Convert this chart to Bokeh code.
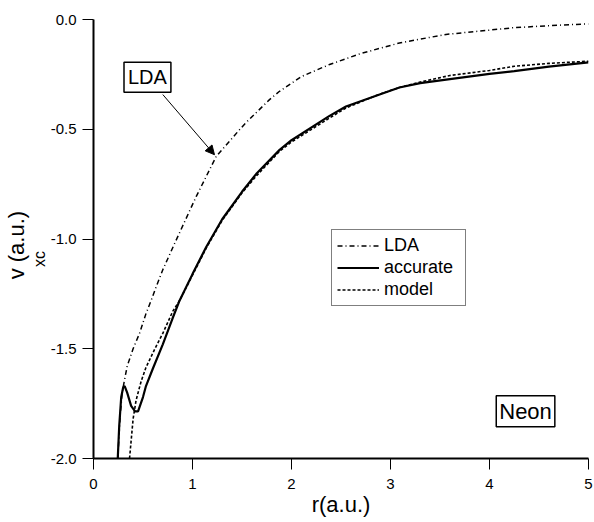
from bokeh.plotting import figure
from bokeh.models import (Range1d, FixedTicker, Label, Arrow, NormalHead, Legend,
                          LegendItem, PrintfTickFormatter, Title)
from bokeh.embed import file_html
from bokeh.resources import INLINE

FONT = "Liberation Sans"

r_accurate = [0.245, 0.26, 0.28, 0.30, 0.315, 0.34, 0.38, 0.42, 0.45, 0.50, 0.53, 0.60, 0.70,
              0.80, 0.87, 1.00, 1.14, 1.30, 1.50, 1.65, 1.88, 2.00, 2.38, 2.55, 2.89, 3.09,
              3.30, 3.60, 4.00, 4.25, 4.60, 5.00]
v_accurate = [-2.00, -1.85, -1.72, -1.675, -1.67, -1.70, -1.76, -1.785, -1.785, -1.72, -1.67,
              -1.59, -1.48, -1.36, -1.28, -1.16, -1.035, -0.91, -0.785, -0.70, -0.594, -0.55,
              -0.44, -0.396, -0.342, -0.31, -0.29, -0.272, -0.248, -0.235, -0.215, -0.195]

r_model = [0.364, 0.38, 0.40, 0.43, 0.48, 0.53, 0.62, 0.70, 0.80, 0.87, 1.00, 1.14, 1.30, 1.50,
           1.65, 1.88, 2.00, 2.38, 2.55, 2.89, 3.09, 3.30, 3.60, 4.00, 4.25, 4.60, 5.00]
v_model = [-2.00, -1.92, -1.82, -1.735, -1.65, -1.585, -1.50, -1.43, -1.33, -1.28, -1.165,
           -1.04, -0.915, -0.79, -0.71, -0.60, -0.558, -0.45, -0.403, -0.34, -0.31, -0.285,
           -0.255, -0.232, -0.213, -0.20, -0.19]

r_lda = [0.245, 0.27, 0.29, 0.31, 0.34, 0.36, 0.40, 0.465, 0.53, 0.583, 0.633, 0.70, 0.835,
         1.037, 1.239, 1.475, 1.54, 1.778, 1.879, 2.10, 2.384, 2.70, 3.09, 3.56, 4.23, 4.60, 5.00]
v_lda = [-2.00, -1.80, -1.70, -1.65, -1.58, -1.553, -1.50, -1.43, -1.34, -1.279, -1.218, -1.14,
         -1.005, -0.807, -0.624, -0.502, -0.47, -0.365, -0.327, -0.26, -0.205, -0.155, -0.107,
         -0.068, -0.038, -0.028, -0.020]

x_ticks = [0, 1, 2, 3, 4, 5]
y_ticks = [0.0, -0.5, -1.0, -1.5, -2.0]

p = figure(frame_width=495, frame_height=439,
           x_range=Range1d(0, 5), y_range=Range1d(-2, 0),
           output_backend="svg", toolbar_location=None,
           min_border_left=93, min_border_top=19, min_border_right=5, min_border_bottom=40)
p.outline_line_color = None
p.xgrid.grid_line_color = None
p.ygrid.grid_line_color = None

p.xaxis.ticker = FixedTicker(ticks=x_ticks)
p.yaxis.ticker = FixedTicker(ticks=y_ticks)
p.yaxis.formatter = PrintfTickFormatter(format="%.1f")
p.axis.axis_line_width = 2
p.axis.axis_line_color = "black"
p.axis.major_tick_out = 11
p.axis.major_tick_in = 0
p.axis.major_tick_line_color = "black"
p.axis.major_label_text_color = "black"
p.axis.major_label_text_font_size = "15px"
p.xaxis.major_label_standoff = 9
p.yaxis.major_label_standoff = 6

p.xaxis.axis_label = "r(a.u.)"
p.xaxis.axis_label_text_font = FONT
p.xaxis.axis_label_text_font_size = "22px"
p.xaxis.axis_label_text_font_style = "normal"
p.xaxis.axis_label_text_color = "black"
p.xaxis.axis_label_standoff = 0

# y-axis label v_xc(a.u.): subscript "xc" next to the axis, "v ... (a.u.)" outside it
p.add_layout(Title(text="xc         ", text_font=FONT, text_font_size="16px",
                   text_font_style="normal", text_color="black", align="center",
                   standoff=0, text_line_height=0.45), "left")
p.add_layout(Title(text="v   (a.u.)", text_font=FONT, text_font_size="22px",
                   text_font_style="normal", text_color="black", align="center",
                   standoff=0), "left")

l_lda = p.line(r_lda, v_lda, line_color="black", line_width=1.5, line_dash="5 3 1 3")
l_acc = p.line(r_accurate, v_accurate, line_color="black", line_width=2.2)
l_mod = p.line(r_model, v_model, line_color="black", line_width=1.6, line_dash="3 2")

legend = Legend(items=[LegendItem(label="LDA", renderers=[l_lda]),
                       LegendItem(label="accurate", renderers=[l_acc]),
                       LegendItem(label="model", renderers=[l_mod])],
                location=(238, 152))
legend.label_text_font = FONT
legend.label_text_color = "black"
legend.label_text_font_size = "18px"
legend.label_height = 21
legend.glyph_height = 21
legend.glyph_width = 42
legend.label_standoff = 5
legend.label_width = 76
legend.padding = 5
legend.spacing = 1
legend.margin = 0
legend.border_line_color = "black"
legend.border_line_width = 1.5
p.add_layout(legend)

p.add_layout(Label(x=0.545, y=-0.263, text="LDA", text_align="center", text_baseline="middle",
                   text_font=FONT, text_color="black", text_font_size="20px",
                   border_line_color="black", border_line_width=1.5,
                   background_fill_color="white", padding=4))
p.add_layout(Arrow(end=NormalHead(size=9, fill_color="black", line_color="black", line_width=1),
                   x_start=0.70, y_start=-0.342, x_end=1.222, y_end=-0.616,
                   line_color="black", line_width=1))
p.add_layout(Label(x=4.364, y=-1.785, text="Neon", text_align="center", text_baseline="middle",
                   text_font=FONT, text_color="black", text_font_size="22px",
                   border_line_color="black", border_line_width=1.5,
                   background_fill_color="white", padding=3))

open("out.html", "w").write(file_html(p, INLINE))
